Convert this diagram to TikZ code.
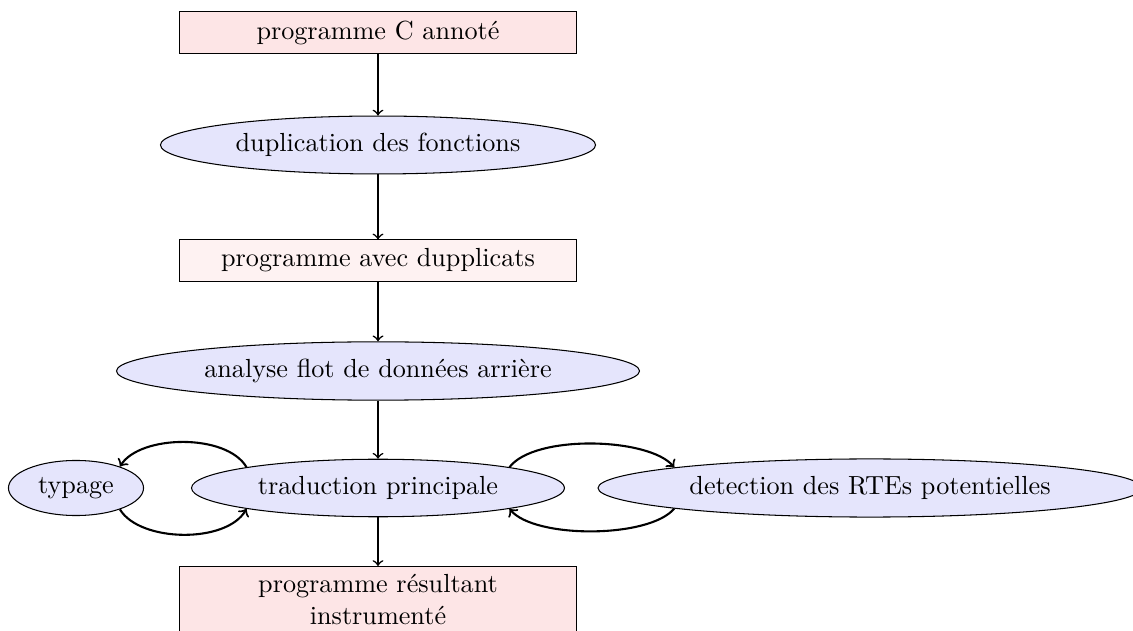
\documentclass[tikz,border=0pt]{standalone}
\usetikzlibrary{shapes.geometric}
\definecolor{boxpink}{RGB}{253,229,230}
\definecolor{boxlight}{RGB}{254,242,242}
\definecolor{ellblue}{RGB}{229,229,252}
\tikzset{
  prog/.style={draw, rectangle, fill=boxpink, minimum width=151.6pt, minimum height=15.7pt, inner sep=2pt},
  proc/.style={draw, ellipse, fill=ellblue, inner sep=3.33pt},
  flow/.style={->, semithick},
  loop/.style={->, thick},
}
\begin{document}
\begin{tikzpicture}[x=0.382pt, y=-0.382pt]
\useasboundingbox (0,0) rectangle (1133,631);
\clip (0,0) rectangle (1133,631);
\node[prog] (src) at (378,32.5) {programme C annoté};
\node[proc, minimum width=166.2pt, minimum height=21.4pt] (dup) at (378,145) {duplication des fonctions};
\node[prog, fill=boxlight] (dupl) at (378,260.5) {programme avec dupplicats};
\node[proc, minimum width=199.8pt, minimum height=20.6pt] (ana) at (378,371) {analyse flot de données arrière};
\node[proc, minimum width=142.5pt, minimum height=21.4pt] (trad) at (378,488) {traduction principale};
\node[proc, minimum width=51.6pt, minimum height=19.9pt] (typ) at (76,488) {typage};
\node[proc, minimum width=207.8pt, minimum height=22.2pt] (det) at (870,488) {detection des RTEs potentielles};
\node[prog, anchor=north, align=center, inner sep=3pt] (res) at (378,566) {programme résultant\\instrumenté};
\draw[flow] (src) -- (dup);
\draw[flow] (dup) -- (dupl);
\draw[flow] (dupl) -- (ana);
\draw[flow] (ana) -- (trad);
\draw[flow] (trad) -- (res);
\draw[loop] (trad.171) .. controls +(-20,-34) and +(20,-32) .. (typ.26);
\draw[loop] (typ.-26) .. controls +(20,33) and +(-20,35) .. (trad.189);
\draw[loop] (trad.9.2) .. controls +(25,-33) and +(-25,-30) .. (det.174.2);
\draw[loop] (det.186) .. controls +(-25,30) and +(25,30) .. (trad.351);
\end{tikzpicture}
\end{document}
